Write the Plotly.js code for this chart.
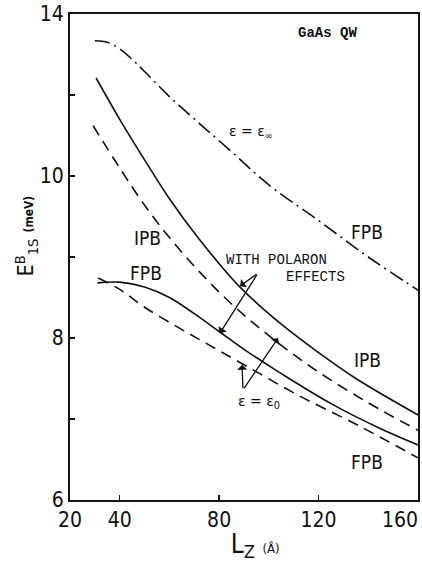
<!DOCTYPE html>
<html>
<head>
<meta charset="utf-8">
<script src="https://cdn.plot.ly/plotly-3.0.1.min.js"></script>
<style>html,body{margin:0;padding:0;background:#fff;}#chart{width:422px;height:562px;}</style>
</head>
<body>
<div id="chart"></div>
<script>
// Lz (Å) and binding energy values (vertical scale as drawn)
const infFPB_x = [30, 35, 40, 45, 50, 60, 72, 85, 100, 120, 140, 160];
const infFPB_y = [11.67, 11.65, 11.57, 11.44, 11.29, 10.98, 10.65, 10.30, 9.89, 9.45, 9.00, 8.59];

const polIPB_x = [30.5, 40, 50, 60, 72, 88, 105, 120, 135, 160];
const polIPB_y = [11.21, 10.70, 10.20, 9.72, 9.22, 8.64, 8.17, 7.82, 7.50, 7.05];

const zeroIPB_x = [29.3, 40, 50, 60, 72, 85, 100, 118, 140, 160];
const zeroIPB_y = [10.62, 10.10, 9.64, 9.24, 8.82, 8.42, 8.03, 7.62, 7.20, 6.86];

const polFPB_x = [31, 40, 50, 60, 70, 80, 90, 105, 125, 145, 160];
const polFPB_y = [8.68, 8.69, 8.63, 8.50, 8.30, 8.08, 7.86, 7.56, 7.19, 6.88, 6.68];

const zeroFPB_x = [31.3, 40, 50, 63, 75, 90, 112, 136, 160];
const zeroFPB_y = [8.74, 8.60, 8.38, 8.14, 7.93, 7.67, 7.29, 6.92, 6.52];

const xTickVals = [20, 40, 80, 120, 160];
const xTickText = ['20', '40', '80', '120', '160&nbsp;&nbsp;&nbsp;&nbsp;&nbsp;&nbsp;'];
const yTickVals = [6, 8, 10, 12];
const yTickText = ['6', '8', '10', '14'];

const ink = '#111';
const narrow = 'Liberation Sans Narrow, DejaVu Sans Condensed, Arial Narrow, sans-serif';
const mono = 'Liberation Mono, DejaVu Sans Mono, monospace';

function curve(x, y, dash) {
  return {x: x, y: y, type: 'scatter', mode: 'lines',
    line: {color: ink, width: 1.6, dash: dash, shape: 'spline', smoothing: 1},
    hoverinfo: 'skip', showlegend: false};
}

const data = [
  curve(infFPB_x, infFPB_y, '15px,5px,2px,5px'),
  curve(polIPB_x, polIPB_y, 'solid'),
  curve(zeroIPB_x, zeroIPB_y, '11px,7px'),
  curve(polFPB_x, polFPB_y, 'solid'),
  curve(zeroFPB_x, zeroFPB_y, '11px,7px')
];

function label(text, x, y, font) {
  return {text: text, x: x, y: y, xref: 'x', yref: 'y', showarrow: false,
    xanchor: 'center', yanchor: 'middle', font: font};
}
function arrow(x, y, ax, ay) {
  return {text: '', x: x, y: y, ax: ax, ay: ay, xref: 'x', yref: 'y', axref: 'x', ayref: 'y',
    showarrow: true, arrowhead: 1, arrowsize: 1.3, arrowwidth: 1.3, arrowcolor: ink};
}
const big = {family: narrow, size: 19, color: ink};
const small = {family: mono, size: 14, color: ink, weight: 'bold'};
const eps = {family: 'DejaVu Sans, sans-serif', size: 14, color: ink};

const annotations = [
  label('GaAs QW', 123.4, 11.77, small),
  label('ε = ε<sub>∞</sub>', 92.8, 10.54, eps),
  label('FPB', 139.5, 9.31, big),
  label('IPB', 51.0, 9.23, big),
  label('FPB', 50.6, 8.80, big),
  label('WITH POLARON', 102.9, 8.96, {family: mono, size: 14, color: ink}),
  label('EFFECTS', 118.6, 8.75, {family: mono, size: 14, color: ink}),
  label('IPB', 139.5, 7.73, big),
  label('FPB', 139.5, 6.47, big),
  label('ε = ε<sub>0</sub>', 96.0, 7.21, eps),
  arrow(88.4, 8.64, 95.6, 8.80),
  arrow(80.3, 8.06, 95.6, 8.80),
  arrow(89.2, 7.67, 89.6, 7.36),
  arrow(103.7, 8.00, 89.6, 7.36)
];

const layout = {
  width: 422, height: 562,
  margin: {l: 70, r: 4, t: 14, b: 62},
  paper_bgcolor: '#fff', plot_bgcolor: '#fff',
  showlegend: false,
  xaxis: {
    range: [20, 160], tickmode: 'array', tickvals: xTickVals, ticktext: xTickText,
    ticks: 'inside', ticklen: 5, tickwidth: 1.5, tickcolor: ink, ticklabeloverflow: 'allow',
    showline: true, linecolor: ink, linewidth: 2, mirror: true, showgrid: false, zeroline: false,
    tickfont: {family: narrow, size: 21, color: ink},
    title: {text: '&nbsp;&nbsp;&nbsp;L<sub>Z</sub> <span style="font-size:13px">(Å)</span>',
      font: {family: narrow, size: 26, color: ink}, standoff: 4}
  },
  yaxis: {
    range: [6, 12], tickmode: 'array', tickvals: yTickVals, ticktext: yTickText,
    ticks: 'inside', ticklen: 5, tickwidth: 1.5, tickcolor: ink,
    minor: {dtick: 1, ticks: 'inside', ticklen: 5, tickwidth: 1.5, tickcolor: ink, showgrid: false},
    showline: true, linecolor: ink, linewidth: 2, mirror: true, showgrid: false, zeroline: false,
    tickfont: {family: narrow, size: 21, color: ink},
    title: {text: '&nbsp;&nbsp;&nbsp;&nbsp;&nbsp;&nbsp;&nbsp;E<sup>B</sup><sub>1S</sub> <span style="font-size:12px;font-weight:bold">(meV)</span>',
      font: {family: narrow, size: 21, color: ink}, standoff: 0}
  },
  annotations: annotations
};

Plotly.newPlot('chart', data, layout, {staticPlot: true, displayModeBar: false});
</script>
</body>
</html>
